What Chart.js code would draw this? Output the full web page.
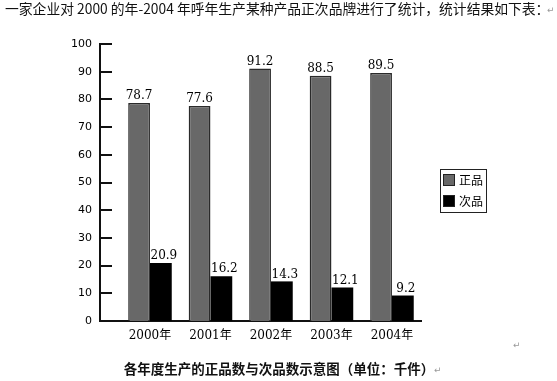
<!DOCTYPE html>
<html>
<head>
<meta charset="utf-8">
<script src="https://cdn.jsdelivr.net/npm/chart.js@4.4.1/dist/chart.umd.min.js"></script>
<style>
  html, body { margin: 0; padding: 0; background: #fff; }
  #wrap { width: 557px; height: 381px; }
</style>
</head>
<body>
<div id="wrap"><canvas id="grafico"></canvas></div>
<script>
// Datos
const anios = ["2000年", "2001年", "2002年", "2003年", "2004年"];
const zhengpin = [78.7, 77.6, 91.2, 88.5, 89.5];
const cipin = [20.9, 16.2, 14.3, 12.1, 9.2];
const nombresSeries = ["正品", "次品"];
const yMin = 0;
const yMax = 100;
const yPaso = 10;

const encabezado = "一家企业对 2000 的年-2004 年呼年生产某种产品正次品牌进行了统计，统计结果如下表：";
const pie = "各年度生产的正品数与次品数示意图（单位：千件）";

const serif = "'DejaVu Serif', 'Noto Sans CJK SC', serif";
const cjk = "'Noto Sans CJK SC', 'DejaVu Sans', sans-serif";

// Etiquetas de valor encima de cada barra
const etiquetas = {
  id: "etiquetas",
  afterDatasetsDraw(chart) {
    const ctx = chart.ctx;
    ctx.save();
    ctx.font = "12px " + serif;
    ctx.fillStyle = "#000";
    ctx.textAlign = "center";
    ctx.textBaseline = "bottom";
    chart.data.datasets.forEach(function (ds, i) {
      chart.getDatasetMeta(i).data.forEach(function (barra, j) {
        const dx = i === 1 ? 3 : 0;
        ctx.fillText(ds.data[j].toFixed(1), barra.x + dx, barra.y - 1);
      });
    });
    ctx.restore();
  },
};

// Marcas del eje Y hacia adentro
const marcasY = {
  id: "marcasY",
  afterDraw(chart) {
    const ctx = chart.ctx;
    const y = chart.scales.y;
    const izq = chart.chartArea.left;
    ctx.save();
    ctx.strokeStyle = "#111";
    ctx.lineWidth = 2;
    y.ticks.forEach(function (t, i) {
      if (t.value === 0) return;
      const py = Math.round(y.getPixelForTick(i));
      ctx.beginPath();
      ctx.moveTo(izq, py);
      ctx.lineTo(izq + 12, py);
      ctx.stroke();
    });
    ctx.restore();
  },
};

// Leyenda con recuadro, como en el original
const leyenda = {
  id: "leyenda",
  afterDraw(chart) {
    const ctx = chart.ctx;
    const x0 = chart.chartArea.right + 19;
    const y0 = 169;
    ctx.save();
    ctx.strokeStyle = "#222";
    ctx.lineWidth = 1;
    ctx.strokeRect(x0 + 0.5, y0 + 0.5, 46, 43);
    ctx.font = "12px " + cjk;
    ctx.textBaseline = "middle";
    chart.data.datasets.forEach(function (ds, i) {
      const yy = y0 + 11 + i * 21;
      ctx.fillStyle = ds.backgroundColor;
      ctx.fillRect(x0 + 3, yy - 6, 12, 12);
      ctx.strokeStyle = "#222";
      ctx.strokeRect(x0 + 3.5, yy - 5.5, 11, 11);
      ctx.fillStyle = "#000";
      ctx.fillText(ds.label, x0 + 19, yy);
    });
    ctx.restore();
  },
};

// Textos de encabezado y pie
const textos = {
  id: "textos",
  afterDraw(chart) {
    const ctx = chart.ctx;
    ctx.save();
    ctx.textBaseline = "middle";
    ctx.fillStyle = "#111";
    ctx.font = "13.8px " + cjk;
    ctx.textAlign = "left";
    ctx.fillText(encabezado, 5, 9);
    ctx.font = "bold 13.5px " + cjk;
    ctx.textAlign = "center";
    ctx.fillText(pie, 279, 369);
    ctx.fillStyle = "#999";
    ctx.font = "9px 'DejaVu Sans'";
    ctx.textAlign = "left";
    ctx.fillText("↵", 547, 11);
    ctx.fillText("↵", 513, 346);
    ctx.fillText("↵", 434, 371);
    ctx.restore();
  },
};

const ctx = document.getElementById("grafico").getContext("2d");
new Chart(ctx, {
  type: "bar",
  data: {
    labels: anios,
    datasets: [
      {
        label: nombresSeries[0],
        data: zhengpin,
        backgroundColor: "#686868",
        borderColor: "#2a2a2a",
        borderWidth: 1.5,
      },
      {
        label: nombresSeries[1],
        data: cipin,
        backgroundColor: "#000000",
        borderColor: "#000000",
        borderWidth: 0,
      },
    ],
  },
  options: {
    responsive: true,
    maintainAspectRatio: false,
    animation: false,
    layout: { padding: { top: 44, right: 136, bottom: 36, left: 0 } },
    datasets: { bar: { categoryPercentage: 0.72, barPercentage: 1 } },
    plugins: {
      legend: { display: false },
      tooltip: { enabled: false },
    },
    scales: {
      x: {
        offset: true,
        grid: { display: false, drawTicks: false },
        border: { display: true, color: "#111", width: 2 },
        ticks: {
          color: "#000",
          padding: 8,
          font: { family: serif, size: 12 },
          maxRotation: 0,
        },
        // Corro las categorías para dejar el hueco a la izquierda del original
        afterBuildTicks: function (escala) {
          escala._startValue = -0.826;
          escala._valueRange = 5.306;
        },
        afterFit: function (escala) {
          escala.height = 24;
        },
      },
      y: {
        min: yMin,
        max: yMax,
        grid: { display: false, drawTicks: false },
        border: { display: true, color: "#111", width: 2 },
        ticks: {
          stepSize: yPaso,
          color: "#000",
          padding: 8,
          font: { family: "'DejaVu Sans', sans-serif", size: 11 },
        },
        afterFit: function (escala) {
          escala.width = 100;
        },
      },
    },
  },
  plugins: [etiquetas, marcasY, leyenda, textos],
});
</script>
</body>
</html>
